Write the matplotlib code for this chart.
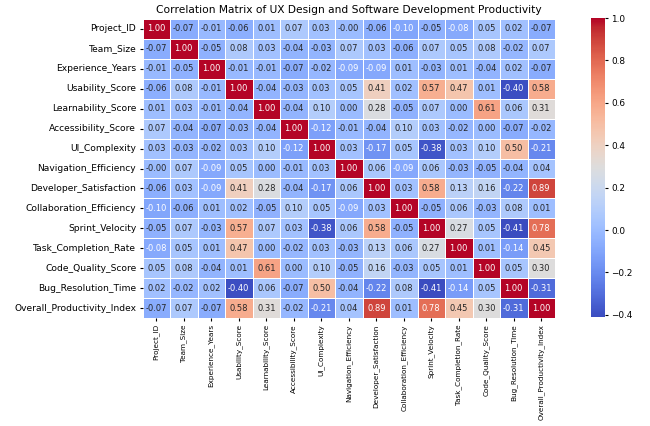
import matplotlib
matplotlib.use("Agg")
import matplotlib.pyplot as plt
import numpy as np
import pandas as pd
import seaborn as sns

columns = [
    "Project_ID", "Team_Size", "Experience_Years", "Usability_Score",
    "Learnability_Score", "Accessibility_Score", "UI_Complexity",
    "Navigation_Efficiency", "Developer_Satisfaction", "Collaboration_Efficiency",
    "Sprint_Velocity", "Task_Completion_Rate", "Code_Quality_Score",
    "Bug_Resolution_Time", "Overall_Productivity_Index",
]

project_id = [1.00, -0.07, -0.01, -0.06, 0.01, 0.07, 0.03, -0.001, -0.06, -0.10, -0.05, -0.08, 0.05, 0.02, -0.07]
team_size = [-0.07, 1.00, -0.05, 0.08, 0.03, -0.04, -0.03, 0.07, 0.03, -0.06, 0.07, 0.05, 0.08, -0.02, 0.07]
experience = [-0.01, -0.05, 1.00, -0.01, -0.01, -0.07, -0.02, -0.09, -0.09, 0.01, -0.03, 0.01, -0.04, 0.02, -0.07]
usability = [-0.06, 0.08, -0.01, 1.00, -0.04, -0.03, 0.03, 0.05, 0.41, 0.02, 0.57, 0.47, 0.01, -0.40, 0.58]
learnability = [0.01, 0.03, -0.01, -0.04, 1.00, -0.04, 0.10, 0.00, 0.28, -0.05, 0.07, 0.00, 0.61, 0.06, 0.31]
accessibility = [0.07, -0.04, -0.07, -0.03, -0.04, 1.00, -0.12, -0.01, -0.04, 0.10, 0.03, -0.02, 0.00, -0.07, -0.02]
ui_complexity = [0.03, -0.03, -0.02, 0.03, 0.10, -0.12, 1.00, 0.03, -0.17, 0.05, -0.38, 0.03, 0.10, 0.50, -0.21]
navigation = [-0.001, 0.07, -0.09, 0.05, 0.00, -0.01, 0.03, 1.00, 0.06, -0.09, 0.06, -0.03, -0.05, -0.04, 0.04]
dev_satisfaction = [-0.06, 0.03, -0.09, 0.41, 0.28, -0.04, -0.17, 0.06, 1.00, 0.03, 0.58, 0.13, 0.16, -0.22, 0.89]
collaboration = [-0.10, -0.06, 0.01, 0.02, -0.05, 0.10, 0.05, -0.09, 0.03, 1.00, -0.05, 0.06, -0.03, 0.08, 0.01]
sprint_velocity = [-0.05, 0.07, -0.03, 0.57, 0.07, 0.03, -0.38, 0.06, 0.58, -0.05, 1.00, 0.27, 0.05, -0.41, 0.78]
task_completion = [-0.08, 0.05, 0.01, 0.47, 0.00, -0.02, 0.03, -0.03, 0.13, 0.06, 0.27, 1.00, 0.01, -0.14, 0.45]
code_quality = [0.05, 0.08, -0.04, 0.01, 0.61, 0.00, 0.10, -0.05, 0.16, -0.03, 0.05, 0.01, 1.00, 0.05, 0.30]
bug_resolution = [0.02, -0.02, 0.02, -0.40, 0.06, -0.07, 0.50, -0.04, -0.22, 0.08, -0.41, -0.14, 0.05, 1.00, -0.31]
overall = [-0.07, 0.07, -0.07, 0.58, 0.31, -0.02, -0.21, 0.04, 0.89, 0.01, 0.78, 0.45, 0.30, -0.31, 1.00]

corr = pd.DataFrame(
    [project_id, team_size, experience, usability, learnability, accessibility,
     ui_complexity, navigation, dev_satisfaction, collaboration, sprint_velocity,
     task_completion, code_quality, bug_resolution, overall],
    index=columns, columns=columns,
)

fig = plt.figure(figsize=(6.5, 4.26), dpi=100)
W, H = 650, 426
ax = fig.add_axes([142.5 / W, 1 - 318 / H, 412.5 / W, 299 / H])
cax = fig.add_axes([591 / W, 1 - 317 / H, 14 / W, 299 / H])

sns.heatmap(corr, annot=True, fmt=".2f", cmap="coolwarm", linewidths=0.5,
            linecolor="white", ax=ax, cbar_ax=cax,
            annot_kws={"size": 6})

ax.set_title("Correlation Matrix of UX Design and Software Development Productivity",
             fontsize=7.7, pad=4)
ax.tick_params(axis="both", length=2.5, pad=2)
plt.setp(ax.get_xticklabels(), rotation=90, fontsize=5.2)
plt.setp(ax.get_yticklabels(), rotation=0, fontsize=6.6)
cax.tick_params(labelsize=6.4, length=2.5, pad=2)

fig.savefig("out.png", dpi=100)
